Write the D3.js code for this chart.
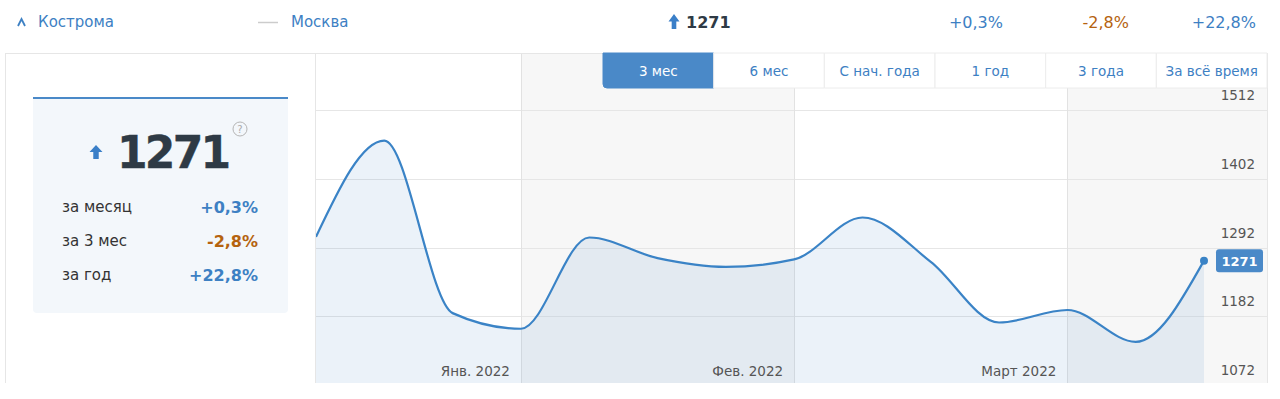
<!DOCTYPE html>
<html>
<head>
<meta charset="utf-8">
<script src="https://cdn.jsdelivr.net/npm/d3@7"></script>
<style>
  html, body { margin: 0; padding: 0; background: #fff; }
  svg { display: block; font-family: "DejaVu Sans", Verdana, sans-serif; }
</style>
</head>
<body>
<svg id="chart" width="1280" height="399"></svg>
<script>
// ---- data ----
const values = [1309, 1463, 1187, 1162, 1308, 1275, 1261, 1273, 1340, 1269, 1172, 1192, 1141, 1271];
const monthLabels = ["Янв. 2022", "Фев. 2022", "Март 2022"];
const monthStartIndex = [3, 7, 11];
const yTicks = [1512, 1402, 1292, 1182, 1072];
const periodButtons = ["3 мес", "6 мес", "С нач. года", "1 год", "3 года", "За всё время"];
const activeButton = "3 мес";
const currentValue = 1271;
const changeLabels = ["за месяц", "за 3 мес", "за год"];
const changeValues = ["+0,3%", "-2,8%", "+22,8%"];
const seriesNames = ["Кострома", "Москва"];

// ---- styles ----
const BLUE = "#3d80c3", LINE = "#3a83c6", BTN = "#4a89c8", ORANGE = "#b5630f", DARK = "#2e3a45";
const GRID = "#e6e6e6", BAND = "#f7f7f7", AXIS_TXT = "#555";
const colorFor = v => v.startsWith("-") ? ORANGE : BLUE;

const svg = d3.select("#chart");

// plot geometry
const plotL = 316, plotR = 1267, plotT = 53, plotB = 383, lastX = 1204;
const x = d3.scaleLinear().domain([0, values.length - 1]).range([plotL, lastX]);
const y = d3.scaleLinear().domain([1072, 1512]).range([385, 110]);

svg.append("defs").append("clipPath").attr("id", "plotclip")
  .append("rect").attr("x", plotL).attr("y", plotT).attr("width", plotR - plotL).attr("height", plotB - plotT);

const plot = svg.append("g").attr("clip-path", "url(#plotclip)");
plot.append("rect").attr("x", plotL).attr("y", plotT).attr("width", plotR - plotL).attr("height", plotB - plotT).attr("fill", "#fff");

// month bands (alternating)
const bounds = [plotL, ...monthStartIndex.map(i => x(i)), plotR];
for (let i = 0; i < bounds.length - 1; i++) {
  if (i % 2 === 1) {
    plot.append("rect").attr("x", bounds[i]).attr("y", plotT)
      .attr("width", bounds[i + 1] - bounds[i]).attr("height", plotB - plotT).attr("fill", BAND);
  }
}

// gridlines
plot.selectAll("line.hgrid").data(yTicks).join("line").attr("class", "hgrid")
  .attr("x1", plotL).attr("x2", plotR).attr("y1", d => Math.round(y(d)) + 0.5).attr("y2", d => Math.round(y(d)) + 0.5)
  .attr("stroke", GRID).attr("stroke-width", 1);
plot.selectAll("line.vgrid").data(monthStartIndex).join("line").attr("class", "vgrid")
  .attr("x1", d => Math.round(x(d)) + 0.5).attr("x2", d => Math.round(x(d)) + 0.5).attr("y1", plotT).attr("y2", plotB)
  .attr("stroke", "#e2e2e2");

// area + line
const curve = d3.curveMonotoneX;
const area = d3.area().x((d, i) => x(i)).y0(plotB + 10).y1(d => y(d)).curve(curve);
const line = d3.line().x((d, i) => x(i)).y(d => y(d)).curve(curve);
plot.append("path").datum(values).attr("d", area).attr("fill", "rgba(58,131,198,0.1)");
plot.append("path").datum(values).attr("d", line).attr("fill", "none").attr("stroke", LINE).attr("stroke-width", 2.2);
plot.append("circle").attr("cx", x(values.length - 1)).attr("cy", y(values[values.length - 1])).attr("r", 4).attr("fill", LINE);

// y-axis labels
plot.selectAll("text.ylab").data(yTicks).join("text").attr("class", "ylab")
  .attr("x", 1255).attr("y", d => y(d) - 10).attr("text-anchor", "end")
  .attr("font-size", 13.5).attr("fill", AXIS_TXT).text(d => d);

// month labels
plot.selectAll("text.mlab").data(monthStartIndex).join("text").attr("class", "mlab")
  .attr("x", d => x(d) - 11).attr("y", 376).attr("text-anchor", "end")
  .attr("font-size", 13.5).attr("fill", AXIS_TXT).text((d, i) => monthLabels[i]);

// last value badge
const lv = values[values.length - 1];
plot.append("rect").attr("x", 1216).attr("y", y(lv) - 11.5).attr("width", 47).attr("height", 23).attr("rx", 3).attr("fill", BTN);
plot.append("text").attr("x", 1239.5).attr("y", y(lv) + 0.5).attr("dominant-baseline", "central").attr("text-anchor", "middle")
  .attr("font-size", 13).attr("font-weight", "bold").attr("fill", "#fff").text(lv);

// panel borders
svg.append("line").attr("x1", 5.5).attr("x2", 5.5).attr("y1", 53).attr("y2", plotB).attr("stroke", GRID);
svg.append("line").attr("x1", 5).attr("x2", plotR + 1).attr("y1", 53.5).attr("y2", 53.5).attr("stroke", GRID);
svg.append("line").attr("x1", plotR + 0.5).attr("x2", plotR + 0.5).attr("y1", 53).attr("y2", plotB).attr("stroke", GRID);
svg.append("line").attr("x1", 315.5).attr("x2", 315.5).attr("y1", 53).attr("y2", plotB).attr("stroke", GRID);

// period buttons
const bx = d3.scaleBand().domain(periodButtons).range([603, plotR]);
const btn = svg.append("g").selectAll("g").data(periodButtons).join("g");
btn.append("path").attr("d", d => {
  const x0 = bx(d), x1 = x0 + bx.bandwidth(), y0 = 53, y1 = 88, r = d === activeButton ? 4 : 0;
  return `M${x0},${y0}H${x1}V${y1}H${x0 + r}Q${x0},${y1} ${x0},${y1 - r}Z`;
}).attr("fill", d => d === activeButton ? BTN : "#fff")
  .attr("stroke", d => d === activeButton ? BTN : "#ececec").attr("stroke-width", 1);
btn.append("text").attr("x", d => bx(d) + bx.bandwidth() / 2).attr("y", 71).attr("dominant-baseline", "central")
  .attr("text-anchor", "middle").attr("font-size", 13.5).attr("fill", d => d === activeButton ? "#fff" : BLUE).text(d => d);

// arrow helper
function upArrow(g, cx, topY, w, h, color) {
  const hh = h * 0.5, sw = w * 0.42;
  g.append("path").attr("d",
    `M${cx},${topY}L${cx + w / 2},${topY + hh}H${cx + sw / 2}V${topY + h}H${cx - sw / 2}V${topY + hh}H${cx - w / 2}Z`)
    .attr("fill", color);
}

// left summary card
const card = svg.append("g");
card.append("path").attr("d", "M33,99H288V309Q288,313 284,313H37Q33,313 33,309Z").attr("fill", "#f3f7fb");
card.append("rect").attr("x", 33).attr("y", 97).attr("width", 255).attr("height", 2).attr("fill", BTN);
upArrow(card, 96, 145, 13, 14, "#3a7fc8");
card.append("text").attr("x", 117).attr("y", 168).attr("font-size", 44).attr("font-weight", "bold")
  .attr("fill", DARK).attr("letter-spacing", -2.8).attr("stroke", DARK).attr("stroke-width", 0.4).text(currentValue);
card.append("circle").attr("cx", 240).attr("cy", 129).attr("r", 7).attr("fill", "none").attr("stroke", "#b5b5b5");
card.append("text").attr("x", 240).attr("y", 129.5).attr("dominant-baseline", "central").attr("text-anchor", "middle")
  .attr("font-size", 10).attr("fill", "#aaa").text("?");
const rows = card.selectAll("g.row").data(changeLabels).join("g").attr("class", "row");
rows.append("text").attr("x", 62).attr("y", (d, i) => 207 + i * 34).attr("dominant-baseline", "central")
  .attr("font-size", 15).attr("fill", "#333").text(d => d);
rows.append("text").attr("x", 258).attr("y", (d, i) => 207 + i * 34).attr("dominant-baseline", "central")
  .attr("text-anchor", "end").attr("font-size", 16).attr("font-weight", "bold")
  .attr("fill", (d, i) => colorFor(changeValues[i])).text((d, i) => changeValues[i]);

// top legend row
const topRow = svg.append("g");
topRow.append("path").attr("d", "M18,26L21.5,19L25,26").attr("fill", "none").attr("stroke", BLUE).attr("stroke-width", 1.8);
topRow.append("text").attr("x", 38).attr("y", 22).attr("dominant-baseline", "central").attr("font-size", 15).attr("fill", BLUE).text(seriesNames[0]);
topRow.append("line").attr("x1", 258).attr("x2", 278).attr("y1", 22.5).attr("y2", 22.5).attr("stroke", "#ccc").attr("stroke-width", 1.5);
topRow.append("text").attr("x", 291).attr("y", 22).attr("dominant-baseline", "central").attr("font-size", 15).attr("fill", BLUE).text(seriesNames[1]);
upArrow(topRow, 674, 14, 11, 15, "#3a7fc8");
topRow.append("text").attr("x", 686).attr("y", 22).attr("dominant-baseline", "central").attr("font-size", 16)
  .attr("font-weight", "bold").attr("fill", DARK).text(currentValue);
const topRight = [1003, 1129, 1256];
topRow.selectAll("text.chg").data(changeValues).join("text").attr("class", "chg")
  .attr("x", (d, i) => topRight[i]).attr("y", 22).attr("dominant-baseline", "central").attr("text-anchor", "end")
  .attr("font-size", 16).attr("fill", d => colorFor(d)).text(d => d);
</script>
</body>
</html>
